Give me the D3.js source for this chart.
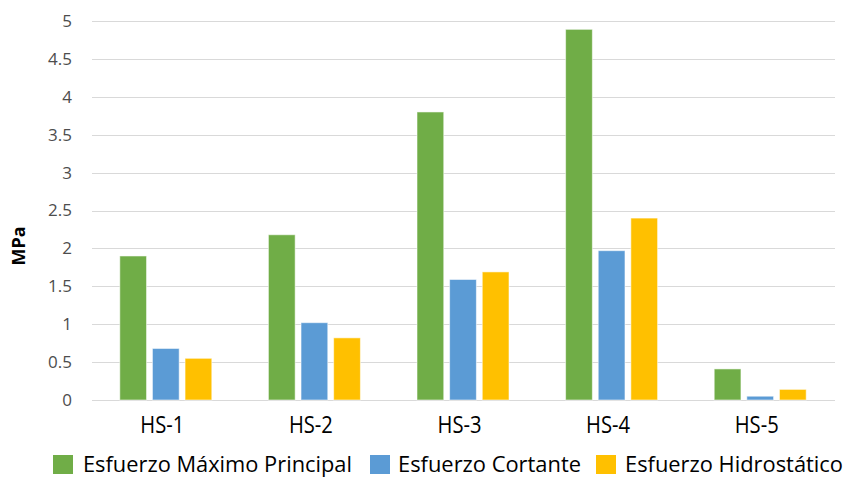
<!DOCTYPE html>
<html>
<head>
<meta charset="utf-8">
<script src="https://cdn.jsdelivr.net/npm/d3@7"></script>
<style>
  html, body { margin: 0; padding: 0; background: #fff; }
  svg { display: block; font-family: "Open Sans", "Noto Sans", sans-serif; }
</style>
</head>
<body>
<svg id="chart" width="847" height="478"></svg>
<script>
// Stress results per specimen (MPa)
const categories = ["HS-1", "HS-2", "HS-3", "HS-4", "HS-5"];
const seriesNames = ["Esfuerzo Máximo Principal", "Esfuerzo Cortante", "Esfuerzo Hidrostático"];
const maxPrincipal = [1.90, 2.18, 3.80, 4.89, 0.41];
const shear = [0.68, 1.02, 1.59, 1.97, 0.05];
const hydrostatic = [0.55, 0.82, 1.69, 2.40, 0.14];
const yTicks = [0, 0.5, 1, 1.5, 2, 2.5, 3, 3.5, 4, 4.5, 5];
const yTickLabels = ["0", "0.5", "1", "1.5", "2", "2.5", "3", "3.5", "4", "4.5", "5"];
const colors = ["#70ad47", "#5b9bd5", "#ffc000"];

const seriesValues = [maxPrincipal, shear, hydrostatic];
const rows = categories.map((c, i) => ({
  cat: c,
  vals: seriesValues.map((s, k) => ({ key: seriesNames[k], value: s[i], color: colors[k] }))
}));

const svg = d3.select("#chart");
const plot = { left: 92, right: 835, top: 21, bottom: 400 };

const x = d3.scaleBand().domain(categories).range([plot.left, plot.right]).padding(0);
const y = d3.scaleLinear().domain([0, 5]).range([plot.bottom, plot.top]);

// Horizontal gridlines
svg.append("g")
  .selectAll("line")
  .data(yTicks)
  .join("line")
  .attr("x1", plot.left).attr("x2", plot.right)
  .attr("y1", d => Math.round(y(d)) + 0.5).attr("y2", d => Math.round(y(d)) + 0.5)
  .attr("stroke", "#d9d9d9").attr("stroke-width", 1.2);

// Y axis tick labels
const yAxis = d3.axisLeft(y).tickValues(yTicks)
  .tickFormat((d, i) => yTickLabels[i]).tickSize(0).tickPadding(0);
const gy = svg.append("g").attr("transform", "translate(72,0)").call(yAxis);
gy.select(".domain").remove();
gy.selectAll("text")
  .attr("fill", "#4d4d4d")
  .style("font-size", "17px")
  .style("font-family", "'Open Sans', sans-serif");

// Y axis title
svg.append("text")
  .attr("transform", "translate(25,246) rotate(-90)")
  .attr("text-anchor", "middle")
  .style("font-size", "18px")
  .style("font-weight", "bold")
  .attr("fill", "#000")
  .text("MPa");

// Bars
const groupWidth = 92;
const xInner = d3.scaleBand().domain(seriesNames)
  .range([-groupWidth / 2, groupWidth / 2]).paddingInner(0.18).paddingOuter(0);

svg.append("g")
  .selectAll("g")
  .data(rows)
  .join("g")
  .attr("transform", d => `translate(${x(d.cat) + x.bandwidth() / 2 - 0.5},0)`)
  .selectAll("rect")
  .data(d => d.vals)
  .join("rect")
  .attr("x", d => xInner(d.key))
  .attr("width", xInner.bandwidth())
  .attr("y", d => y(d.value))
  .attr("height", d => y(0) - y(d.value))
  .attr("fill", d => d.color)
  .attr("stroke", "rgba(255,255,255,0.55)")
  .attr("stroke-width", 1);

// X axis labels
const xAxis = d3.axisBottom(x).tickSize(0).tickPadding(0);
const gx = svg.append("g").attr("transform", "translate(-4,433)").call(xAxis);
gx.select(".domain").remove();
gx.selectAll("text")
  .attr("dy", 0)
  .attr("y", 0)
  .attr("fill", "#000")
  .style("font-size", "23px")
  .style("font-family", "'Open Sans', sans-serif")
  .attr("textLength", 44)
  .attr("lengthAdjust", "spacingAndGlyphs");

// Legend
const legendItems = [
  { name: seriesNames[0], color: colors[0], sx: 53, tx: 83, tw: 269 },
  { name: seriesNames[1], color: colors[1], sx: 370, tx: 398, tw: 183 },
  { name: seriesNames[2], color: colors[2], sx: 596, tx: 625, tw: 218 }
];
const lg = svg.append("g").selectAll("g").data(legendItems).join("g");
lg.append("rect")
  .attr("x", d => d.sx).attr("y", 455)
  .attr("width", 20).attr("height", 19)
  .attr("fill", d => d.color);
lg.append("text")
  .attr("x", d => d.tx).attr("y", 472)
  .style("font-size", "21px")
  .attr("fill", "#000")
  .attr("textLength", d => d.tw)
  .attr("lengthAdjust", "spacingAndGlyphs")
  .text(d => d.name);
</script>
</body>
</html>
